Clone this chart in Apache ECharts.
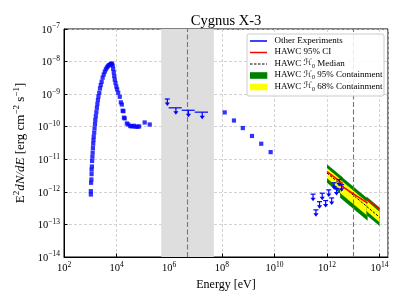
<!DOCTYPE html>
<html><head><meta charset="utf-8">
<script src="https://cdn.jsdelivr.net/npm/echarts@6/dist/echarts.min.js"></script>
<style>html,body{margin:0;padding:0;background:#fff}#c{width:407px;height:305px}</style>
</head><body><div id="c"></div>
<script>
// ---- data ----
const xrayE = [1.05e3,1.05e3,1.07e3,1.10e3,1.12e3,1.12e3,1.15e3,1.17e3,1.20e3,1.23e3,1.26e3,1.29e3,1.32e3,1.35e3,1.41e3,1.45e3,1.51e3,1.55e3,1.62e3,1.70e3,1.78e3,1.86e3,1.95e3,2.04e3,2.19e3,2.34e3,2.5e3,2.7e3,2.95e3,3.24e3,3.55e3,3.9e3,4.27e3,4.68e3,5.13e3,5.62e3,6.17e3,6.6e3,7.1e3,7.4e3,7.8e3,8.1e3,8.5e3,9.1e3,9.8e3,1.05e4,1.15e4,1.32e4,1.45e4,1.58e4,1.70e4,1.82e4,1.9e4,2.04e4,2.45e4,2.8e4,3.3e4,3.8e4,4.5e4,5.2e4,6.3e4,7.2e4,1.17e5,1.82e5];
const xrayF = [8.3e-13,1.05e-12,1.9e-12,2.4e-12,3.5e-12,4.8e-12,6.0e-12,8.9e-12,1.2e-11,1.6e-11,2.2e-11,3.0e-11,3.9e-11,5.0e-11,6.6e-11,8.9e-11,1.2e-10,1.6e-10,2.1e-10,2.8e-10,3.8e-10,5.0e-10,6.6e-10,8.5e-10,1.1e-9,1.5e-9,1.9e-9,2.4e-9,3.2e-9,4.0e-9,4.9e-9,5.8e-9,6.6e-9,7.2e-9,7.8e-9,8.1e-9,8.5e-9,8.7e-9,7.6e-9,6.0e-9,4.7e-9,3.6e-9,2.8e-9,2.2e-9,1.7e-9,1.4e-9,1.1e-9,8.3e-10,5.6e-10,4.8e-10,3.1e-10,3.0e-10,1.9e-10,1.8e-10,1.26e-10,1.17e-10,1.05e-10,1.02e-10,1.07e-10,1.0e-10,1.0e-10,1.02e-10,1.35e-10,1.17e-10];

const fermiE = [1.29e8, 2.9e8, 6.3e8, 1.41e9, 3.16e9, 7.2e9];
const fermiF = [2.75e-10, 1.55e-10, 9.1e-11, 5.2e-11, 3.0e-11, 1.66e-11];

// MeV upper limits (value, bin edges)
const mevUlE   = [8.5e5, 1.8e6, 5.4e6, 1.8e7];
const mevUlF   = [7.1e-10, 3.8e-10, 3.2e-10, 2.8e-10];
const mevUlElo = [8.5e5, 9.5e5, 3.0e6, 9.3e6];
const mevUlEhi = [8.5e5, 3.0e6, 9.3e6, 3.0e7];

// TeV upper limits
const tevUlE = [2.95e11, 3.8e11, 5.2e11, 6.6e11, 8.9e11, 1.17e12, 1.51e12, 1.86e12, 2.3e12, 2.9e12, 3.6e12];
const tevUlF = [8.5e-13, 2.8e-13, 5.0e-13, 9.1e-13, 5.4e-13, 1.15e-12, 6.5e-13, 1.9e-12, 1.26e-12, 2.4e-12, 1.66e-12];

// HAWC containment bands per energy segment: [start, end]
const hawcSegE  = [[1.0e12, 4.0e12], [3.16e12, 3.5e13], [3.16e13, 1.0e14]];
const hawc95Hi  = [[7.1e-12, 2.75e-12], [3.16e-12, 6.2e-13], [7.2e-13, 3.3e-13]];
const hawc68Hi  = [[5.4e-12, 2.1e-12],  [2.4e-12, 4.7e-13],  [5.4e-13, 2.45e-13]];
const hawc68Lo  = [[2.6e-12, 1.0e-12],  [9.3e-13, 1.8e-13],  [2.6e-13, 1.17e-13]];
const hawc95Lo  = [[1.9e-12, 7.4e-13],  [6.6e-13, 1.29e-13], [1.95e-13, 8.9e-14]];
const hawcMedianE = [1.0e12, 1.0e14];
const hawcMedianF = [3.8e-12, 1.66e-13];
const hawcCiF   = [[4.2e-12, 1.8e-12], [1.6e-12, 4.5e-13], [6.0e-13, 3.0e-13]];

const grayBandE = [5e5, 5e7];
const dashedE   = [5e6, 1e13];

const xTickExp = [2, 4, 6, 8, 10, 12, 14];
const yTickExp = [-14, -13, -12, -11, -10, -9, -8, -7];

const legendLabels = ['Other Experiments', 'HAWC 95% CI', 'HAWC \u210B0 Median', 'HAWC \u210B0 95% Containment', 'HAWC \u210B0 68% Containment'];

// ---- build ----
const L = Math.log10;
const SERIF = '"Liberation Serif", "DejaVu Serif", serif';
const BLUE = '#0000ff';

const xraySeries = xrayE.map((e, i) => [L(e), L(xrayF[i])]);
const fermiSeries = fermiE.map((e, i) => [L(e), L(fermiF[i])]);
const ulData = mevUlE.map((e, i) => [L(e), L(mevUlF[i]), L(mevUlElo[i]), L(mevUlEhi[i])])
  .concat(tevUlE.map((e, i) => [L(e), L(tevUlF[i]), L(e), L(e)]));
const bandData = hawcSegE.map((s, i) => [L(s[0]), L(s[1]),
  L(hawc95Hi[i][0]), L(hawc95Hi[i][1]), L(hawc68Hi[i][0]), L(hawc68Hi[i][1]),
  L(hawc68Lo[i][0]), L(hawc68Lo[i][1]), L(hawc95Lo[i][0]), L(hawc95Lo[i][1])]);
const ciData = hawcSegE.map((s, i) => ({coords: [[L(s[0]), L(hawcCiF[i][0])], [L(s[1]), L(hawcCiF[i][1])]]}));

function renderBands(params, api) {
  const x0 = api.value(0), x1 = api.value(1);
  const poly = (a0, a1, b0, b1) => [api.coord([x0, a0]), api.coord([x1, a1]), api.coord([x1, b1]), api.coord([x0, b0])];
  return {type: 'group', children: [
    {type: 'polygon', shape: {points: poly(api.value(2), api.value(3), api.value(8), api.value(9))}, style: {fill: '#008000'}},
    {type: 'polygon', shape: {points: poly(api.value(4), api.value(5), api.value(6), api.value(7))}, style: {fill: '#ffff00'}}
  ]};
}
function renderUL(params, api) {
  const e = api.value(0), f = api.value(1), lo = api.value(2), hi = api.value(3);
  const p = api.coord([e, f]);
  let xl = api.coord([lo, f])[0], xr = api.coord([hi, f])[0];
  if (xr - xl < 1) { xl = p[0] - 2.5; xr = p[0] + 2.5; }
  const len = 6.5;
  return {type: 'group', children: [
    {type: 'line', shape: {x1: xl, y1: p[1], x2: xr, y2: p[1]}, style: {stroke: BLUE, lineWidth: 1.2}},
    {type: 'line', shape: {x1: p[0], y1: p[1], x2: p[0], y2: p[1] + len - 2}, style: {stroke: BLUE, lineWidth: 1.2}},
    {type: 'polygon', shape: {points: [[p[0] - 2.6, p[1] + len - 3], [p[0] + 2.6, p[1] + len - 3], [p[0], p[1] + len + 0.5]]}, style: {fill: BLUE}}
  ]};
}

const tickRich = {
  b: {fontFamily: SERIF, fontSize: 10.5, color: '#000', verticalAlign: 'bottom'},
  s: {fontFamily: SERIF, fontSize: 7.5, color: '#000', verticalAlign: 'bottom', padding: [0, 0, 5, 0]}
};
const nameRich = {
  r: {fontFamily: SERIF, fontSize: 13, color: '#000', verticalAlign: 'bottom'},
  i: {fontFamily: SERIF, fontSize: 13, fontStyle: 'italic', color: '#000', verticalAlign: 'bottom'},
  s: {fontFamily: SERIF, fontSize: 9, color: '#000', verticalAlign: 'bottom', padding: [0, 0, 6, 0]}
};
const gridLine = {show: true, lineStyle: {color: '#c8c8c8', type: [3, 2], width: 0.8}};

// legend graphic
const legX = 247, legY = 34, rowH = 11.5, row0 = 41;
const legRich = {
  n: {fontFamily: SERIF, fontSize: 9, fill: '#000', verticalAlign: 'bottom', padding: [0, 0, 1.5, 0]},
  h: {fontFamily: '"DejaVu Serif", "DejaVu Sans", serif', fontSize: 8.5, fill: '#000', verticalAlign: 'bottom', padding: [0, 0, 1.5, 0]},
  b: {fontFamily: SERIF, fontSize: 6, fill: '#000', verticalAlign: 'bottom'}
};
function legText(t) {
  if (t.indexOf('\u210B0') < 0) return '{n|' + t + '}';
  const parts = t.split('\u210B0');
  return '{n|' + parts[0] + '}{h|\u210B}{b|0}{n|' + parts[1] + '}';
}
const legendEls = [
  {type: 'rect', shape: {x: legX, y: legY, width: 137, height: 62, r: 2}, style: {fill: 'rgba(255,255,255,0.85)', stroke: '#cccccc', lineWidth: 1}, z: 100}
];
legendLabels.forEach((t, i) => {
  const y = row0 + i * rowH;
  if (i === 0) legendEls.push({type: 'line', shape: {x1: 250, y1: y, x2: 267, y2: y}, style: {stroke: BLUE, lineWidth: 1.5}, z: 101});
  if (i === 1) legendEls.push({type: 'line', shape: {x1: 250, y1: y, x2: 267, y2: y}, style: {stroke: '#ff0000', lineWidth: 1.5}, z: 101});
  if (i === 2) legendEls.push({type: 'line', shape: {x1: 250, y1: y, x2: 267, y2: y}, style: {stroke: '#000', lineWidth: 1, lineDash: [2.5, 1.5]}, z: 101});
  if (i === 3) legendEls.push({type: 'rect', shape: {x: 250, y: y - 3.3, width: 17.3, height: 6.6}, style: {fill: '#008000'}, z: 101});
  if (i === 4) legendEls.push({type: 'rect', shape: {x: 250, y: y - 3.3, width: 17.3, height: 6.6}, style: {fill: '#ffff00'}, z: 101});
  legendEls.push({type: 'text', x: 274.5, y: y, style: {text: legText(t), rich: legRich, verticalAlign: 'middle', align: 'left'}, z: 101});
});

const chart = echarts.init(document.getElementById('c'), null, {renderer: 'canvas'});
chart.setOption({
  animation: false,
  backgroundColor: '#fff',
  grid: {left: 64, right: 19, top: 29, bottom: 48, show: true, borderColor: '#000', borderWidth: 1, backgroundColor: 'transparent'},
  xAxis: {
    type: 'value', min: xTickExp[0], max: 14.32, interval: 2,
    axisLine: {show: true, lineStyle: {color: '#000', width: 1}},
    axisTick: {show: true, inside: true, length: 3.5, lineStyle: {color: '#000'}},
    axisLabel: {showMaxLabel: false, margin: 4, formatter: v => xTickExp.indexOf(v) >= 0 ? '{b|10}{s|' + v + '}' : '', rich: tickRich},
    splitLine: gridLine,
    name: 'Energy [eV]', nameLocation: 'middle', nameGap: 18,
    nameTextStyle: {fontFamily: SERIF, fontSize: 12, color: '#000'}
  },
  yAxis: {
    type: 'value', min: yTickExp[0], max: yTickExp[yTickExp.length - 1], interval: 1,
    axisLine: {show: true, lineStyle: {color: '#000', width: 1}},
    axisTick: {show: true, inside: true, length: 3.5, lineStyle: {color: '#000'}},
    axisLabel: {margin: 4, formatter: v => '{b|10}{s|\u2212' + Math.abs(v) + '}', rich: tickRich},
    splitLine: gridLine,
    name: '{r|E}{s|2}{i|dN/dE}{r| [erg cm}{s|\u22122}{r| s}{s|\u22121}{r|]}',
    nameLocation: 'middle', nameRotate: 90, nameGap: 29,
    nameTextStyle: {rich: nameRich}
  },
  graphic: [
    {type: 'text', x: 226, y: 21.5, style: {text: 'Cygnus X-3', fontFamily: SERIF, fontSize: 14.5, fill: '#000', align: 'center', verticalAlign: 'middle'}}
  ].concat(legendEls),
  series: [
    {type: 'line', data: [], silent: true, z: 1,
     markArea: {silent: true, itemStyle: {color: '#dedede'}, data: [[{xAxis: L(grayBandE[0])}, {xAxis: L(grayBandE[1])}]]},
     markLine: {silent: true, symbol: 'none', label: {show: false}, lineStyle: {color: '#777', type: [5, 2.5], width: 1.1},
       data: dashedE.map(e => ({xAxis: L(e)}))}},
    {type: 'custom', renderItem: renderBands, data: bandData, encode: {x: [0, 1], y: [2, 3]}, z: 3, silent: true, clip: true},
    {type: 'line', data: hawcMedianE.map((e, i) => [L(e), L(hawcMedianF[i])]), showSymbol: false, z: 4, silent: true,
     lineStyle: {color: '#000', width: 1, type: [2.5, 1.5]}},
    {type: 'lines', coordinateSystem: 'cartesian2d', data: ciData, z: 5, silent: true,
     lineStyle: {color: '#ff0000', width: 1.5, opacity: 1}},
    {type: 'scatter', data: xraySeries, symbol: 'rect', symbolSize: 4.2, itemStyle: {color: BLUE}, z: 6, silent: true},
    {type: 'scatter', data: fermiSeries, symbol: 'rect', symbolSize: 4.2, itemStyle: {color: BLUE}, z: 6, silent: true},
    {type: 'custom', renderItem: renderUL, data: ulData, encode: {x: 0, y: 1}, z: 7, silent: true}
  ]
});
</script></body></html>
